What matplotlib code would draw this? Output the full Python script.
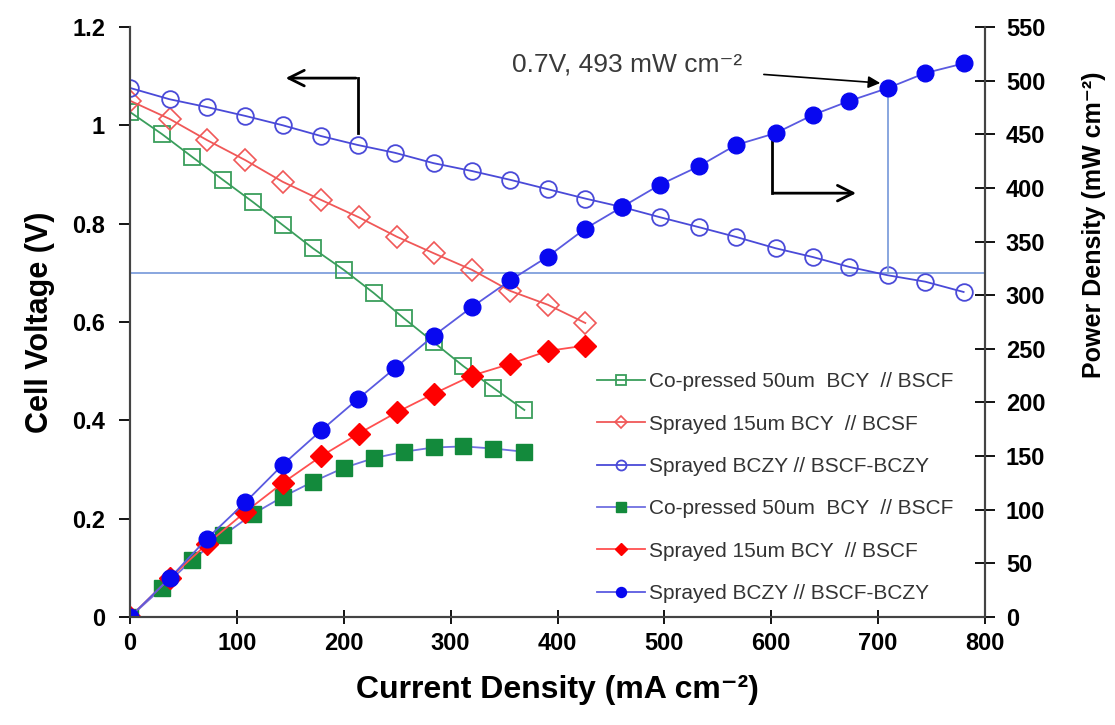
import matplotlib
matplotlib.use('Agg')
import matplotlib.pyplot as plt
from matplotlib import font_manager
import numpy as np

# ------------------------------------------------------------------
# data
# ------------------------------------------------------------------
i_green = [0, 30, 58, 87, 115, 143, 171, 200, 228, 256, 284, 312, 340, 369]
v_green = [1.027, 0.982, 0.936, 0.889, 0.844, 0.797, 0.750, 0.706, 0.659,
           0.608, 0.559, 0.510, 0.466, 0.421]
p_green = [0, 27, 53, 76, 96, 112, 126, 139, 148, 154, 158, 159, 157, 154]

i_red = [0, 37, 72, 108, 143, 179, 214, 250, 284, 320, 356, 391, 426]
v_red = [1.050, 1.013, 0.970, 0.929, 0.885, 0.848, 0.813, 0.773, 0.740,
         0.706, 0.663, 0.635, 0.598]
p_red = [0, 36, 68, 98, 125, 150, 171, 191, 208, 225, 236, 248, 253]

i_blue = [0, 37, 72, 108, 143, 179, 213, 248, 284, 320, 356, 391, 426,
          460, 496, 532, 567, 604, 639, 673, 709, 744, 780]
v_blue = [1.076, 1.053, 1.037, 1.019, 1.000, 0.978, 0.960, 0.944, 0.923,
          0.907, 0.889, 0.870, 0.851, 0.834, 0.813, 0.793, 0.773, 0.750,
          0.732, 0.712, 0.695, 0.682, 0.661]
p_blue = [0, 36, 73, 107, 142, 174, 203, 232, 262, 289, 314, 336, 362,
          382, 403, 420, 440, 451, 468, 481, 493, 507, 516]

labels = ['Co-pressed 50um  BCY  // BSCF', 'Sprayed 15um BCY  // BCSF',
          'Sprayed BCZY // BSCF-BCZY', 'Co-pressed 50um  BCY  // BSCF',
          'Sprayed 15um BCY  // BSCF', 'Sprayed BCZY // BSCF-BCZY']

v_mark, i_mark, p_mark = 0.7, 709, 493

# ------------------------------------------------------------------
names = {f.name for f in font_manager.fontManager.ttflist}
narrow = 'Liberation Sans Narrow' if 'Liberation Sans Narrow' in names else 'Liberation Sans'
plt.rcParams['font.family'] = ['Liberation Sans', 'DejaVu Sans']

fig = plt.figure(figsize=(11.15, 7.25), dpi=100)
ax = fig.add_axes([0.1166, 0.149, 0.7668, 0.8138])
ax2 = ax.twinx()

lw = 1.3
h = []
h += ax.plot(i_green, v_green, '-s', color='#3a9e5c', mfc='none', mec='#3a9e5c',
             ms=12, mew=1.3, lw=lw)
h += ax.plot(i_red, v_red, '-D', color='#f05858', mfc='none', mec='#f05858',
             ms=11, mew=1.2, lw=lw)
h += ax.plot(i_blue, v_blue, '-o', color='#4a4ad8', mfc='none', mec='#4a4ad8',
             ms=12, mew=1.3, lw=lw)
h += ax2.plot(i_green, p_green, '-s', color='#6f6fe0', mfc='#138a3c', mec='#138a3c',
              ms=12, lw=lw)
h += ax2.plot(i_red, p_red, '-D', color='#ff5050', mfc='#ff0000', mec='#ff0000',
              ms=11, lw=lw)
h += ax2.plot(i_blue, p_blue, '-o', color='#5a5ae0', mfc='#0808f0', mec='#0808f0',
              ms=12, lw=lw)

# 0.7 V guide lines
guide = '#7f9fdc'
ax.axhline(v_mark, color=guide, lw=1.3, zorder=0)
ax2.plot([i_mark, i_mark], [v_mark * 550 / 1.2, p_mark], color=guide, lw=1.3, zorder=0)

# axis-pointing arrows
ax.plot([213, 213], [0.985, 1.096], color='black', lw=2)
ax.annotate('', xy=(143, 1.096), xytext=(214, 1.096),
            arrowprops=dict(arrowstyle='->', color='black', lw=2, mutation_scale=28))
ax.plot([601, 601], [0.972, 0.862], color='black', lw=2)
ax.annotate('', xy=(682, 0.862), xytext=(600, 0.862),
            arrowprops=dict(arrowstyle='->', color='black', lw=2, mutation_scale=28))

ax.annotate('0.7V, 493 mW cm⁻²', xy=(702, 1.086), xytext=(357, 1.124),
            fontsize=19, color='#3a3a3a', va='center', ha='left',
            arrowprops=dict(arrowstyle='-|>', color='black', lw=1.2,
                            mutation_scale=18, shrinkA=14, shrinkB=0))

ax.set_xlim(0, 800)
ax.set_ylim(0, 1.2)
ax2.set_ylim(0, 550)
ax.set_xticks(np.arange(0, 801, 100))
ax.set_yticks([0, 0.2, 0.4, 0.6, 0.8, 1.0, 1.2])
ax.set_yticklabels(['0', '0.2', '0.4', '0.6', '0.8', '1', '1.2'])
ax2.set_yticks(np.arange(0, 551, 50))

for lab in ax.get_xticklabels():
    lab.set_family(narrow)
for a in (ax, ax2):
    for lab in a.get_yticklabels():
        lab.set_fontweight('bold')
for lab in ax.get_xticklabels():
    lab.set_fontweight('bold')

ax.tick_params(axis='x', direction='inout', length=10, width=1.3, labelsize=17, pad=6)
ax.tick_params(axis='y', direction='out', length=8, width=1.3, labelsize=17, pad=10)
ax2.tick_params(axis='y', direction='inout', length=14, width=1.3, labelsize=17, pad=8)

for a in (ax, ax2):
    a.spines['top'].set_visible(False)
    for s in ('left', 'right', 'bottom'):
        a.spines[s].set_color('#444444')
        a.spines[s].set_linewidth(1.5)

ax.set_xlabel('Current Density (mA cm⁻²)', fontsize=23, fontweight='bold',
              family=[narrow, 'DejaVu Sans'], labelpad=14)
ax.set_ylabel('Cell Voltage (V)', fontsize=22, fontweight='bold', family=narrow, labelpad=12)
ax2.set_ylabel('Power Density (mW cm⁻²)', fontsize=18, fontweight='bold',
               family=[narrow, 'DejaVu Sans'])
ax2.yaxis.set_label_coords(1.113, 0.665)

leg = ax2.legend(h, labels, loc='lower right', bbox_to_anchor=(0.985, -0.008),
                 frameon=False, fontsize=15, markerscale=0.6, handlelength=2.3,
                 labelspacing=1.12, handletextpad=0.2)
for t in leg.get_texts():
    t.set_color('#333333')

fig.savefig('out.png', dpi=100)
